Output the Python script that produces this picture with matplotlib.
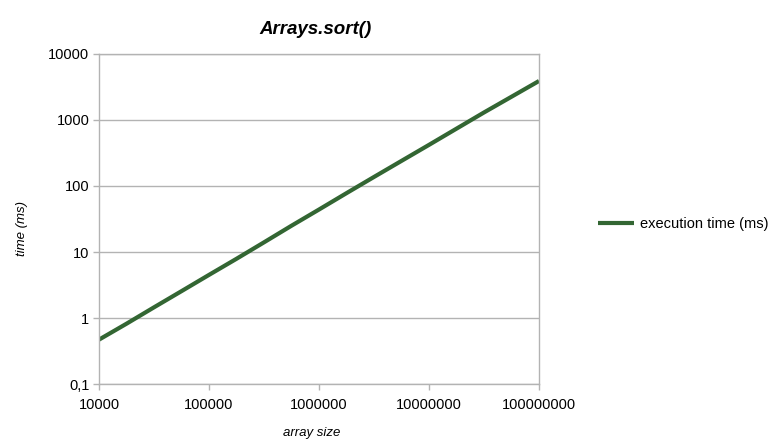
import matplotlib
matplotlib.use("Agg")
import matplotlib.pyplot as plt
from matplotlib.ticker import FixedLocator, FixedFormatter, NullLocator

plt.rcParams['font.family'] = ['Liberation Sans', 'DejaVu Sans']

array_size = [10000, 17800, 31600, 56200, 100000, 178000, 316000, 562000,
              1000000, 1780000, 3160000, 5620000, 10000000, 17800000,
              31600000, 56200000, 100000000]
exec_time = [0.47, 0.82, 1.45, 2.55, 4.5, 7.9, 14, 25, 44, 78, 137, 240,
             420, 740, 1300, 2250, 3900]

x_ticks = [1e4, 1e5, 1e6, 1e7, 1e8]
x_labels = ["10000", "100000", "1000000", "10000000", "100000000"]
y_ticks = [0.1, 1, 10, 100, 1000, 10000]
y_labels = ["0,1", "1", "10", "100", "1000", "10000"]

fig = plt.figure(figsize=(7.82, 4.48), dpi=100)
ax = fig.add_axes([99/782, 1-384/448, 440/782, 330/448])

gray = "#b3b3b3"
line_color = "#336633"
ax.plot(array_size, exec_time, color=line_color, lw=3.0,
        solid_capstyle='butt', label="execution time (ms)")

ax.set_xscale('log')
ax.set_yscale('log')
ax.set_xlim(1e4, 1e8)
ax.set_ylim(0.1, 10000)
ax.xaxis.set_major_locator(FixedLocator(x_ticks))
ax.xaxis.set_major_formatter(FixedFormatter(x_labels))
ax.xaxis.set_minor_locator(NullLocator())
ax.yaxis.set_major_locator(FixedLocator(y_ticks))
ax.yaxis.set_major_formatter(FixedFormatter(y_labels))
ax.yaxis.set_minor_locator(NullLocator())

ax.yaxis.grid(True, color=gray, lw=1)
ax.set_axisbelow(True)
for s in ax.spines.values():
    s.set_color(gray)
    s.set_linewidth(1)
ax.tick_params(axis='both', color=gray, length=4, width=1, labelsize=10.5,
               labelcolor='black')
ax.tick_params(axis='x', pad=6)
ax.tick_params(axis='y', pad=3)

fig.text(316/782, 1-30/448, "Arrays.sort()", ha='center', va='center',
         fontsize=13.5, fontweight='bold', fontstyle='italic')
fig.text(312/782, 1-433/448, "array size", ha='center', va='center',
         fontsize=9.5, fontstyle='italic')
fig.text(22/782, 1-228/448, "time (ms)", ha='center', va='center',
         fontsize=9.5, fontstyle='italic', rotation=90)

leg = fig.legend(loc='center left', bbox_to_anchor=(592/782, 1-224/448),
                 frameon=False, fontsize=10.5, handlelength=2.5,
                 handletextpad=0.4, borderaxespad=0)

fig.savefig("out.png", dpi=100)
